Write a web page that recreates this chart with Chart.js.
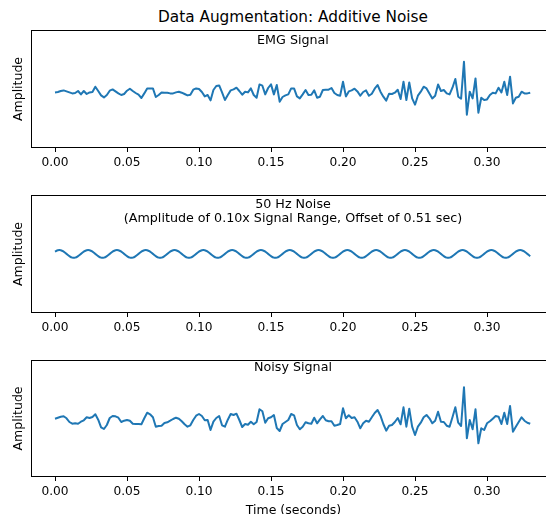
<!DOCTYPE html>
<html>
<head>
<meta charset="utf-8">
<script src="https://cdn.jsdelivr.net/npm/chart.js@4"></script>
<style>
  html, body { margin: 0; padding: 0; width: 546px; height: 514px; overflow: hidden; background: #fff; font-family: 'DejaVu Sans', sans-serif; color: #000; }
  canvas { position: absolute; left: 0; }
  .ttl { position: absolute; left: 73px; width: 440px; text-align: center; font-size: 12.7px; line-height: 14px; white-space: nowrap; }
</style>
</head>
<body>
<canvas id="emg" width="556" height="150" style="top:28px"></canvas>
<canvas id="noise" width="556" height="150" style="top:193px"></canvas>
<canvas id="noisy" width="556" height="160" style="top:358px"></canvas>
<div class="ttl" style="top:8px;font-size:15.3px;line-height:18px;">Data Augmentation: Additive Noise</div>
<div class="ttl" style="top:32.5px">EMG Signal</div>
<div class="ttl" style="top:196.5px">50 Hz Noise<br>(Amplitude of 0.10x Signal Range, Offset of 0.51 sec)</div>
<div class="ttl" style="top:359.5px">Noisy Signal</div>
<script>
// samples every 2 ms (arbitrary amplitude units)
const sampleStep = 0.002;
const xTicks = [0, 0.05, 0.10, 0.15, 0.20, 0.25, 0.30];

const emgSignal = [
  0.3, 0.7, 1.7, 2.3, 1.3, 0.3, -0.7, -0.3, 1.7, -1.7,
  1.7, -1.3, 0.3, 0.7, 6, 1.7, -2.7, -4.7, -2.3, 2,
  3.3, 1.3, -0.7, -2.3, -1.3, 2, 4, 1.7, -0.3, -2,
  -5.3, -0.7, 4.3, 4.3, 4.3, -4.3, -2.3, 0.3, 0, 0,
  -0.7, -0.7, 0.3, 1, 0, -1.3, -2.7, -2, 3, 4.3,
  3.7, 0.7, -3.7, -2.3, -7.7, 2.7, 6.7, 7.3, 0.3, -7.3,
  -2.3, 2.3, 3.3, 5, 1.7, -2, 1, 0.3, 4.3, -2.3,
  -5, 8.3, 7, -1.7, 4.7, 8.3, -1.7, 7.7, -9, -4.3,
  -2.7, -1.7, 4.3, 4.3, -3.7, -5.7, -1.7, 2.7, -2.3, -2,
  2.3, -5, -4, 2.7, 3, 3, 4.7, -0.3, -2.3, -3,
  11, -3.7, 1.3, 2.3, 4, 1.3, -3, 0.7, 2.3, -3,
  -1, 4, 7.7, 1, -4, -8, -1, -1.3, 0, 3,
  -6.3, 11, -7.3, 10.3, -5.7, -12, -3, 1, 6, 4.3,
  -0.7, -5.7, -3, 8.3, 1.7, 2.7, -0.7, -1.7, 5, 13.7,
  -4, -6, 31, -22, 1, -5.7, 14.3, -20, -5, -7.3,
  -6.7, -2.3, 0, -0.7, 5, 0.3, 11, -2.3, 16, -10.7,
  -5, -4, 1, -0.7, -0.7, 0
];

const noise50Hz = [
  2.29, 3.71, 3.71, 2.29, 0, -2.29, -3.71, -3.71, -2.29, 0,
  2.29, 3.71, 3.71, 2.29, 0, -2.29, -3.71, -3.71, -2.29, 0,
  2.29, 3.71, 3.71, 2.29, 0, -2.29, -3.71, -3.71, -2.29, 0,
  2.29, 3.71, 3.71, 2.29, 0, -2.29, -3.71, -3.71, -2.29, 0,
  2.29, 3.71, 3.71, 2.29, 0, -2.29, -3.71, -3.71, -2.29, 0,
  2.29, 3.71, 3.71, 2.29, 0, -2.29, -3.71, -3.71, -2.29, 0,
  2.29, 3.71, 3.71, 2.29, 0, -2.29, -3.71, -3.71, -2.29, 0,
  2.29, 3.71, 3.71, 2.29, 0, -2.29, -3.71, -3.71, -2.29, 0,
  2.29, 3.71, 3.71, 2.29, 0, -2.29, -3.71, -3.71, -2.29, 0,
  2.29, 3.71, 3.71, 2.29, 0, -2.29, -3.71, -3.71, -2.29, 0,
  2.29, 3.71, 3.71, 2.29, 0, -2.29, -3.71, -3.71, -2.29, 0,
  2.29, 3.71, 3.71, 2.29, 0, -2.29, -3.71, -3.71, -2.29, 0,
  2.29, 3.71, 3.71, 2.29, 0, -2.29, -3.71, -3.71, -2.29, 0,
  2.29, 3.71, 3.71, 2.29, 0, -2.29, -3.71, -3.71, -2.29, 0,
  2.29, 3.71, 3.71, 2.29, 0, -2.29, -3.71, -3.71, -2.29, 0,
  2.29, 3.71, 3.71, 2.29, 0, -2.29, -3.71, -3.71, -2.29, 0,
  2.29, 3.71, 3.71, 2.29, 0, -2.29
];

const noisySignal = [
  0.3, 1.3, 2.3, 2.7, 0.7, -3, -4.7, -4.3, -4.7, -2.7,
  -1.3, 1.7, 1, 2, 4.7, -0.7, -8.3, -10, -6, 1,
  3, 2.7, 1.3, -3, -1.7, -1, -1.7, -4.7, -5, -5,
  -5.3, 0.7, 6.3, 4.7, 1.7, -7.7, -7, -6.7, -4, -3.3,
  -1.7, 0, 1.3, 0.3, -2.3, -5.3, -7.7, -6.3, -1, 3.3,
  5, 3, -1.3, -1, -11, -2.7, 1, 3, -6.3, -7.7,
  -0.7, 5, 4, 5.3, -1, -8, -5, -5.7, -2.7, -5.3,
  -3, 9.7, 7.7, -3.7, 0.7, 1.7, 4, -9, -12, -5,
  -3, -1, 5, 3.7, -6, -10.3, -7.7, -3.3, -4.3, -4.7,
  1.3, -4.3, -0.3, 3, -1.3, -2.3, -2.3, -6.7, -6, -5,
  10.7, 0.7, 3.7, 1, 1.7, -2.7, -9.3, -4.3, -1.7, -2.7,
  1.7, 6, 9, 3.3, -5, -11.7, -6.7, -6, -3, 1,
  -5.3, 11.7, -7.7, 10.3, -7.7, -16, -7.7, -3.7, 1.7, 4,
  0.7, -4.3, -1.7, 7.3, -2.7, -3, -6.7, -7.7, 1.7, 11.7,
  -3.7, -7, 31.7, -19.3, -1, -10.3, 9.7, -24.3, -9.3, -11,
  -4.3, -2.3, 0.3, 3, 2.3, -5, 6.3, -5, 13, -12.7,
  -7.7, -3, 1.7, -1.7, -3.7, -4.7
];

const timeSec = emgSignal.map((_, i) => +(i * sampleStep).toFixed(3));

Chart.defaults.font.family = "'DejaVu Sans', sans-serif";
Chart.defaults.font.size = 12.2;
Chart.defaults.color = '#000';

// matplotlib style box round the plot area
const frame = {
  id: 'frame',
  afterDatasetsDraw(chart) {
    const a = chart.chartArea, ctx = chart.ctx;
    ctx.save();
    ctx.strokeStyle = '#000';
    ctx.lineWidth = 1;
    ctx.strokeRect(a.left + 0.5, a.top + 0.5, a.right - a.left - 1, a.bottom - a.top - 1);
    ctx.restore();
  }
};

function panel(id, values, yMin, yMax, curved, xTitle) {
  return new Chart(document.getElementById(id), {
    type: 'line',
    data: {
      datasets: [{
        data: timeSec.map((t, i) => ({ x: t, y: values[i] })),
        borderColor: '#1f77b4',
        borderWidth: 2,
        pointRadius: 0,
        tension: curved ? 0.4 : 0,
        borderJoinStyle: 'round',
        fill: false
      }]
    },
    options: {
      responsive: false,
      animation: false,
      devicePixelRatio: 1,
      layout: { padding: { top: 2, left: 0, right: 0, bottom: 0 } },
      plugins: { legend: { display: false }, tooltip: { enabled: false } },
      scales: {
        x: {
          type: 'linear',
          min: -0.01667,
          max: 0.3479,
          afterBuildTicks: s => { s.ticks = xTicks.map(v => ({ value: v })); },
          afterFit: s => { s.height = xTitle ? 41 : 30; },
          grid: { display: true, drawOnChartArea: false, drawTicks: true, tickLength: 4, tickColor: '#000' },
          border: { display: false },
          ticks: { padding: 4, maxRotation: 0, autoSkip: false, callback: v => v.toFixed(2) },
          title: { display: !!xTitle, text: xTitle || '', font: { size: 12.5 }, padding: 0 }
        },
        y: {
          min: yMin,
          max: yMax,
          afterFit: s => { s.width = 31; },
          grid: { display: false },
          border: { display: false },
          ticks: { display: false },
          title: { display: true, text: 'Amplitude', font: { size: 12.5 }, padding: { top: 11, bottom: 0 } }
        }
      }
    },
    plugins: [frame]
  });
}

panel('emg', emgSignal, -55.3, 62.7, false);
panel('noise', noise50Hz, -59.1, 58.9, true);
panel('noisy', noisySignal, -58, 59, false, 'Time (seconds)');
</script>
</body>
</html>
